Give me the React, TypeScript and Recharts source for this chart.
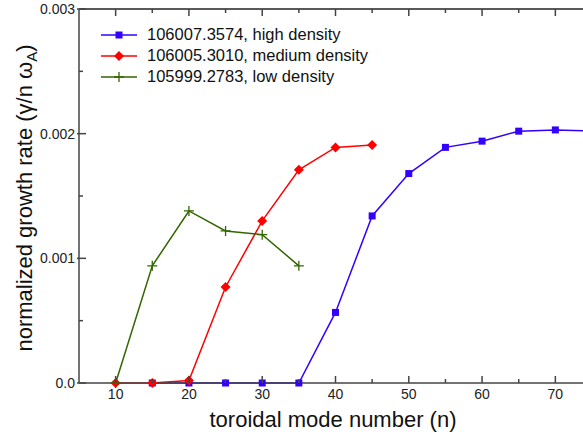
import React from 'react';
import { LineChart, Line, XAxis, YAxis, Legend, Label } from 'recharts';

const modeNumbers = [10, 15, 20, 25, 30, 35, 40, 45, 50, 55, 60, 65, 70, 75];
const highDensity = [null, 0, 0, 0, 0, 0, 0.000566, 0.00134, 0.00168, 0.00189, 0.00194, 0.00202, 0.00203, 0.00202];
const mediumDensity = [0, 0, 0.00002, 0.00077, 0.0013, 0.00171, 0.00189, 0.00191, null, null, null, null, null, null];
const lowDensity = [0, 0.00094, 0.00138, 0.00122, 0.00119, 0.00094, null, null, null, null, null, null, null, null];

const xTicks = [10, 15, 20, 25, 30, 35, 40, 45, 50, 55, 60, 65, 70, 75];
const yTicks = [0, 0.0005, 0.001, 0.0015, 0.002, 0.0025, 0.003];
const yLabels: Record<string, string> = { '0': '0.0', '0.001': '0.001', '0.002': '0.002', '0.003': '0.003' };

const FONT = 'Arial, "Liberation Sans", sans-serif';
const AXIS = '#444';

const series = [
  { key: 'high', name: '106007.3574, high density', color: '#3300ff', shape: 'square' },
  { key: 'medium', name: '106005.3010, medium density', color: '#ff0000', shape: 'diamond' },
  { key: 'low', name: '105999.2783, low density', color: '#336600', shape: 'plus' },
];

const data = modeNumbers.map((n, i) => ({
  n,
  high: highDensity[i],
  medium: mediumDensity[i],
  low: lowDensity[i],
}));

function Marker({ cx, cy, shape, color }: { cx: number; cy: number; shape: string; color: string }) {
  if (cx == null || cy == null) return <g />;
  if (shape === 'square') return <rect x={cx - 3.5} y={cy - 3.5} width={7} height={7} fill={color} />;
  if (shape === 'diamond')
    return <polygon points={`${cx},${cy - 5} ${cx + 5},${cy} ${cx},${cy + 5} ${cx - 5},${cy}`} fill={color} />;
  return <path d={`M${cx - 5},${cy}H${cx + 5}M${cx},${cy - 5}V${cy + 5}`} stroke={color} strokeWidth={1.3} fill="none" />;
}

function BottomTick({ x, y, payload }: any) {
  const major = payload.value % 10 === 0;
  return (
    <g>
      <line x1={x} x2={x} y1={y} y2={y - (major ? 7 : 4)} stroke={AXIS} strokeWidth={1.5} />
      {major && (
        <text x={x} y={y + 16} textAnchor="middle" fontSize={14} fill="#222" fontFamily={FONT}>
          {payload.value}
        </text>
      )}
    </g>
  );
}

function TopTick({ x, y, payload }: any) {
  const major = payload.value % 10 === 0;
  return <line x1={x} x2={x} y1={y} y2={y + (major ? 7 : 4)} stroke={AXIS} strokeWidth={1.5} />;
}

function LeftTick({ x, y, payload }: any) {
  const label = yLabels[String(payload.value)];
  const major = label !== undefined;
  return (
    <g>
      <line x1={major ? x - 2 : x} x2={x + (major ? 7 : 4)} y1={y} y2={y} stroke={AXIS} strokeWidth={1.5} />
      {major && (
        <text x={x - 4} y={y + 5} textAnchor="end" fontSize={14} fill="#222" fontFamily={FONT}>
          {label}
        </text>
      )}
    </g>
  );
}

function LegendBox() {
  return (
    <div style={{ fontFamily: FONT, fontSize: 16.5, color: '#111' }}>
      {series.map(s => (
        <div key={s.key} style={{ display: 'flex', alignItems: 'center', height: 21 }}>
          <svg width={44} height={14} style={{ marginRight: 6 }}>
            <line x1={0} x2={36} y1={7} y2={7} stroke={s.color} strokeWidth={1.5} />
            <Marker cx={18} cy={7} shape={s.shape} color={s.color} />
          </svg>
          <span style={{ marginLeft: -4 }}>{s.name}</span>
        </div>
      ))}
    </div>
  );
}

export default function App() {
  return (
    <div style={{ position: 'absolute', left: 0, top: 0, width: 583, height: 439, overflow: 'hidden', background: '#fff' }}>
      <LineChart width={600} height={439} data={data} margin={{ top: 0, right: 8, bottom: 0, left: 0 }}>
        <XAxis
          dataKey="n"
          type="number"
          domain={[5, 75]}
          ticks={xTicks}
          height={56}
          tickSize={0}
          tickMargin={0}
          tick={<BottomTick />}
          axisLine={{ stroke: AXIS, strokeWidth: 1.5 }}
          allowDataOverflow
        >
          <Label
            content={() => (
              <text x={333} y={427} textAnchor="middle" fontSize={22} fill="#111" fontFamily={FONT}>
                toroidal mode number (n)
              </text>
            )}
          />
        </XAxis>
        <XAxis
          xAxisId="top"
          orientation="top"
          dataKey="n"
          type="number"
          domain={[5, 75]}
          ticks={xTicks}
          height={9}
          tickSize={0}
          tickMargin={0}
          tick={<TopTick />}
          axisLine={{ stroke: '#222', strokeWidth: 1.5 }}
        />
        <YAxis
          type="number"
          domain={[0, 0.003]}
          ticks={yTicks}
          width={79}
          tickSize={0}
          tickMargin={0}
          tick={<LeftTick />}
          axisLine={{ stroke: AXIS, strokeWidth: 1.5 }}
        >
          <Label
            content={() => (
              <text
                x={32}
                y={198}
                transform="rotate(-90, 32, 198)"
                textAnchor="middle"
                fontSize={22}
                fill="#111"
                fontFamily={FONT}
              >
                normalized growth rate (γ/n ω
                <tspan fontSize={15} dy={5}>A</tspan>
                <tspan dy={-5}>)</tspan>
              </text>
            )}
          />
        </YAxis>
        <Legend
          layout="vertical"
          align="center"
          verticalAlign="middle"
          wrapperStyle={{ top: 24, left: 101, width: 'auto' }}
          content={() => <LegendBox />}
        />
        {series.map(s => (
          <Line
            key={s.key}
            dataKey={s.key}
            name={s.name}
            type="linear"
            stroke={s.color}
            strokeWidth={1.5}
            isAnimationActive={false}
            dot={(p: any) => <Marker key={`${s.key}-${p.index}`} cx={p.cx} cy={p.cy} shape={s.shape} color={s.color} />}
            activeDot={false}
          />
        ))}
      </LineChart>
    </div>
  );
}
